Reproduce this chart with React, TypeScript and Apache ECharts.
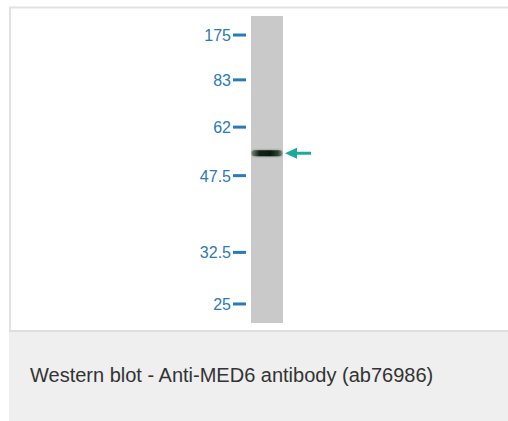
import React, { useEffect, useRef } from "react";
import * as echarts from "echarts";

// Molecular weight markers (kDa) and their relative migration (% of lane length)
const markerLabels = ["175", "83", "62", "47.5", "32.5", "25"];
const markerMigration = [6.2, 20.8, 36.2, 52.0, 77.0, 93.8];
// Detected band (MED6) relative migration
const bandMigration = [44.7];
// Lane extent (relative migration)
const laneExtent = [0, 100];
const caption = "Western blot - Anti-MED6 antibody (ab76986)";

const MARKER_COLOR = "#2a7ab6";
const ARROW_COLOR = "#1aa99a";

export default function App() {
  const ref = useRef<HTMLDivElement>(null);
  useEffect(() => {
    document.body.style.margin = "0";
    const chart = echarts.init(ref.current!, null, { renderer: "svg" });
    chart.setOption({
      animation: false,
      backgroundColor: "#ffffff",
      grid: { left: 251, top: 16, width: 32, height: 307, containLabel: false },
      xAxis: { type: "value", min: 0, max: 1, show: false },
      yAxis: { type: "value", min: laneExtent[0], max: laneExtent[1], inverse: true, show: false },
      graphic: [
        {
          type: "rect",
          z: -10,
          shape: { x: 10, y: 7.5, width: 520, height: 430 },
          style: { fill: "#ffffff", stroke: "#e2e2e2", lineWidth: 2 },
        },
        {
          type: "rect",
          z: -9,
          shape: { x: 9, y: 332, width: 510, height: 100 },
          style: { fill: "#eeefee" },
        },
        {
          type: "line",
          z: -8,
          shape: { x1: 9, y1: 331, x2: 520, y2: 331 },
          style: { stroke: "#dedede", lineWidth: 2 },
        },
        {
          type: "text",
          z: 5,
          style: {
            text: caption,
            x: 30,
            y: 374.5,
            verticalAlign: "middle",
            fill: "#333333",
            font: '20px "Liberation Sans", Arial, sans-serif',
          },
        },
      ],
      series: [
        {
          type: "custom",
          name: "lane",
          clip: false,
          z: 1,
          data: [[0, laneExtent[0], laneExtent[1]]],
          renderItem: (params: any, api: any) => {
            const p0 = api.coord([0, api.value(1)]);
            const p1 = api.coord([1, api.value(2)]);
            return {
              type: "rect",
              shape: { x: p0[0], y: p0[1], width: p1[0] - p0[0], height: p1[1] - p0[1] },
              style: { fill: "#c9c9c9" },
            };
          },
        },
        {
          type: "custom",
          name: "markers",
          clip: false,
          z: 2,
          data: markerMigration.map((m) => [0, m]),
          renderItem: (params: any, api: any) => {
            const p = api.coord([0, api.value(1)]);
            return {
              type: "group",
              children: [
                {
                  type: "text",
                  style: {
                    text: markerLabels[params.dataIndex],
                    x: p[0] - 20,
                    y: p[1] + 0.5,
                    align: "right",
                    verticalAlign: "middle",
                    fill: MARKER_COLOR,
                    font: '16px "Liberation Sans", Arial, sans-serif',
                  },
                },
                {
                  type: "rect",
                  shape: { x: p[0] - 18, y: p[1] - 1.5, width: 13, height: 3 },
                  style: { fill: MARKER_COLOR },
                },
              ],
            };
          },
        },
        {
          type: "custom",
          name: "band",
          clip: false,
          z: 3,
          data: bandMigration.map((m) => [0, m]),
          renderItem: (params: any, api: any) => {
            const pL = api.coord([0, api.value(1)]);
            const pR = api.coord([1, api.value(1)]);
            const w = pR[0] - pL[0];
            return {
              type: "rect",
              shape: { x: pL[0] + 0.5, y: pL[1] - 3, width: w - 1, height: 6, r: 3 },
              style: {
                fill: new echarts.graphic.LinearGradient(0, 0, 1, 0, [
                  { offset: 0, color: "rgba(60,80,60,0.45)" },
                  { offset: 0.25, color: "rgba(15,30,15,0.95)" },
                  { offset: 0.6, color: "rgba(10,25,10,1)" },
                  { offset: 0.85, color: "rgba(30,50,30,0.85)" },
                  { offset: 1, color: "rgba(70,90,70,0.4)" },
                ]),
                shadowBlur: 2,
                shadowColor: "rgba(20,40,20,0.5)",
              },
            };
          },
        },
        {
          type: "custom",
          name: "arrow",
          clip: false,
          z: 4,
          data: bandMigration.map((m) => [1, m]),
          renderItem: (params: any, api: any) => {
            const p = api.coord([1, api.value(1)]);
            const tipX = p[0] + 2;
            const y = p[1];
            return {
              type: "group",
              children: [
                {
                  type: "polygon",
                  shape: {
                    points: [
                      [tipX, y],
                      [tipX + 12, y - 5.5],
                      [tipX + 12, y + 5.5],
                    ],
                  },
                  style: { fill: ARROW_COLOR },
                },
                {
                  type: "rect",
                  shape: { x: tipX + 10, y: y - 1.5, width: 16, height: 3 },
                  style: { fill: ARROW_COLOR },
                },
              ],
            };
          },
        },
      ],
    });
    return () => chart.dispose();
  }, []);
  return <div ref={ref} style={{ width: 508, height: 421, position: "absolute", left: 0, top: 0 }} />;
}
